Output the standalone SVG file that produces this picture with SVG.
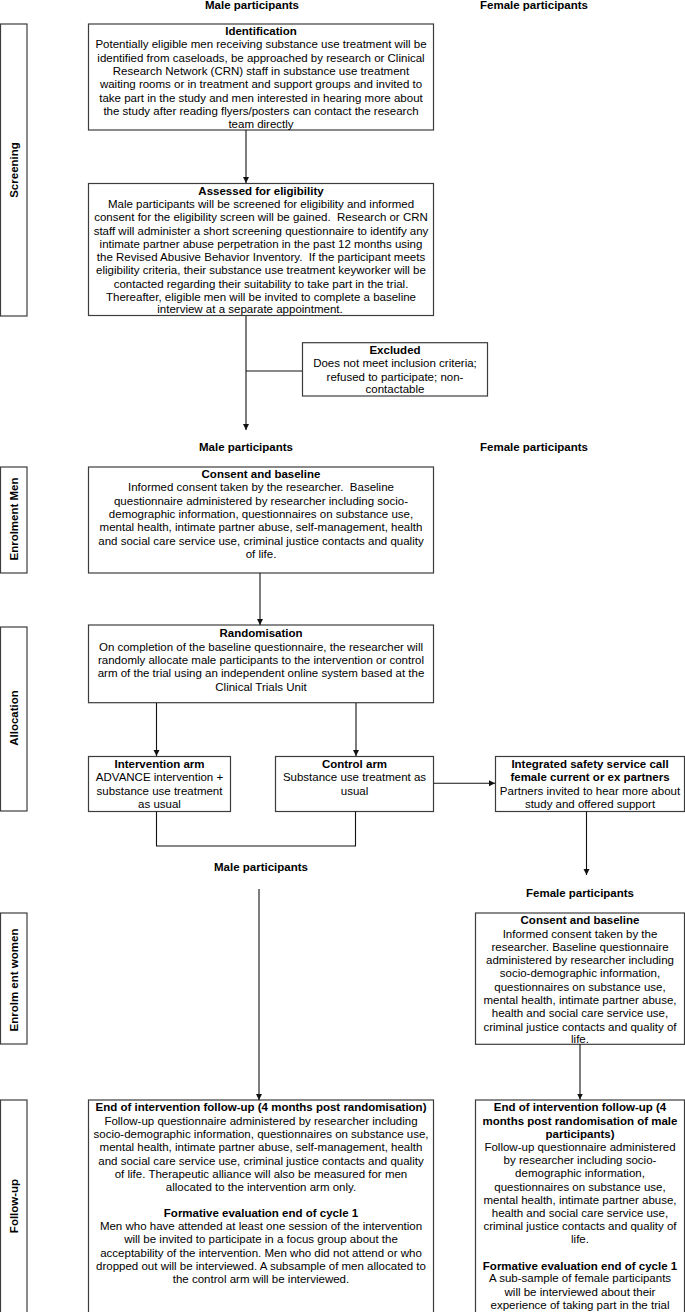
<svg xmlns="http://www.w3.org/2000/svg" width="685" height="1312" viewBox="0 0 685 1312">
<style>
text{font-family:"Liberation Sans",Arial,sans-serif;font-size:11.5px;fill:#000;text-anchor:middle}
.b{font-weight:bold}
.box{fill:#fff;stroke:#3c3c3c;stroke-width:1.2}
.con{fill:none;stroke:#111;stroke-width:1.1}
</style>
<defs>
<marker id="ah" markerUnits="userSpaceOnUse" markerWidth="7" markerHeight="7" refX="6" refY="3" orient="auto">
<path d="M0,0 L6,3 L0,6 z" fill="#111"/>
</marker>
</defs>
<rect width="685" height="1312" fill="#fff"/>

<g id="headers">
<text class="b" x="252" y="9">Male participants</text>
<text class="b" x="534" y="9">Female participants</text>
<text class="b" x="246" y="451">Male participants</text>
<text class="b" x="534" y="451">Female participants</text>
<text class="b" x="261" y="871">Male participants</text>
<text class="b" x="580" y="897">Female participants</text>
</g>

<g id="stage-screening">
<rect class="box" x="0.5" y="24" width="26.5" height="292"/>
<text class="b" transform="translate(17.5,170) rotate(-90)">Screening</text>
</g>
<g id="stage-enrolment-men">
<rect class="box" x="0.5" y="467" width="26.5" height="106"/>
<text class="b" transform="translate(17.5,519) rotate(-90)">Enrolment Men</text>
</g>
<g id="stage-allocation">
<rect class="box" x="0.5" y="627" width="26.5" height="184"/>
<text class="b" transform="translate(17.5,718) rotate(-90)">Allocation</text>
</g>
<g id="stage-enrolment-women">
<rect class="box" x="0.5" y="913" width="26.5" height="131"/>
<text class="b" transform="translate(17.5,980) rotate(-90)">Enrolm ent women</text>
</g>
<g id="stage-followup">
<rect class="box" x="0.5" y="1100" width="26.5" height="220"/>
<text class="b" transform="translate(17.5,1206) rotate(-90)">Follow-up</text>
</g>

<g id="identification">
<rect class="box" x="88.5" y="24" width="345" height="106"/>
<text x="261"><tspan class="b" x="261" y="35">Identification</tspan><tspan x="261" y="48.3">Potentially eligible men receiving substance use treatment will be</tspan><tspan x="261" y="61.7">identified from caseloads, be approached by research or Clinical</tspan><tspan x="261" y="75">Research Network (CRN) staff in substance use treatment</tspan><tspan x="261" y="88.3">waiting rooms or in treatment and support groups and invited to</tspan><tspan x="261" y="101.7">take part in the study and men interested in hearing more about</tspan><tspan x="261" y="115">the study after reading flyers/posters can contact the research</tspan><tspan x="261" y="128.3">team directly</tspan></text>
</g>

<g id="eligibility">
<rect class="box" x="88.5" y="183.5" width="345" height="132"/>
<text x="261"><tspan class="b" x="261" y="194.7">Assessed for eligibility</tspan><tspan x="261" y="208">Male participants will be screened for eligibility and informed</tspan><tspan x="261" y="221.3">consent for the eligibility screen will be gained.&#160; Research or CRN</tspan><tspan x="261" y="234.6">staff will administer a short screening questionnaire to identify any</tspan><tspan x="261" y="247.6">intimate partner abuse perpetration in the past 12 months using</tspan><tspan x="261" y="260.9">the Revised Abusive Behavior Inventory.&#160; If the participant meets</tspan><tspan x="261" y="274.2">eligibility criteria, their substance use treatment keyworker will be</tspan><tspan x="261" y="287.5">contacted regarding their suitability to take part in the trial.</tspan><tspan x="261" y="300.5">Thereafter, eligible men will be invited to complete a baseline</tspan><tspan x="250" y="313.3">interview at a separate appointment.</tspan></text>
</g>

<g id="excluded">
<rect class="box" x="302.5" y="342.7" width="185" height="53.3"/>
<text x="395"><tspan class="b" x="395" y="354">Excluded</tspan><tspan x="395" y="367.3">Does not meet inclusion criteria;</tspan><tspan x="395" y="380.7">refused to participate; non-</tspan><tspan x="395" y="393.3">contactable</tspan></text>
</g>

<g id="consent-men">
<rect class="box" x="88.5" y="467" width="345" height="106"/>
<text x="261"><tspan class="b" x="261" y="478">Consent and baseline</tspan><tspan x="261" y="491.3">Informed consent taken by the researcher.&#160; Baseline</tspan><tspan x="261" y="504.7">questionnaire administered by researcher including socio-</tspan><tspan x="261" y="518">demographic information, questionnaires on substance use,</tspan><tspan x="261" y="531.3">mental health, intimate partner abuse, self-management, health</tspan><tspan x="261" y="544.7">and social care service use, criminal justice contacts and quality</tspan><tspan x="261" y="558">of life.</tspan></text>
</g>

<g id="randomisation">
<rect class="box" x="88.5" y="625" width="345" height="77.7"/>
<text x="261"><tspan class="b" x="261" y="637.3">Randomisation</tspan><tspan x="261" y="650.7">On completion of the baseline questionnaire, the researcher will</tspan><tspan x="261" y="664">randomly allocate male participants to the intervention or control</tspan><tspan x="261" y="677.3">arm of the trial using an independent online system based at the</tspan><tspan x="261" y="690.6">Clinical Trials Unit</tspan></text>
</g>

<g id="intervention-arm">
<rect class="box" x="88.5" y="756.5" width="142" height="55"/>
<text x="159.5"><tspan class="b" x="159.5" y="768">Intervention arm</tspan><tspan x="159.5" y="781.3">ADVANCE intervention +</tspan><tspan x="159.5" y="794.7">substance use treatment</tspan><tspan x="159.5" y="808">as usual</tspan></text>
</g>

<g id="control-arm">
<rect class="box" x="275.5" y="756.5" width="158" height="55"/>
<text x="354.5"><tspan class="b" x="354.5" y="768">Control arm</tspan><tspan x="354.5" y="781.3">Substance use treatment as</tspan><tspan x="354.5" y="794.7">usual</tspan></text>
</g>

<g id="safety-call">
<rect class="box" x="495.5" y="756.5" width="189" height="55"/>
<text x="590"><tspan class="b" x="590" y="768">Integrated safety service call</tspan><tspan class="b" x="590" y="781.3">female current or ex partners</tspan><tspan x="590" y="794.7">Partners invited to hear more about</tspan><tspan x="590" y="808">study and offered support</tspan></text>
</g>

<g id="consent-women">
<rect class="box" x="475.5" y="913" width="209" height="131.3"/>
<text x="580"><tspan class="b" x="580" y="924">Consent and baseline</tspan><tspan x="580" y="937.5">Informed consent taken by the</tspan><tspan x="580" y="950.8">researcher. Baseline questionnaire</tspan><tspan x="580" y="964">administered by researcher including</tspan><tspan x="580" y="977.3">socio-demographic information,</tspan><tspan x="580" y="990.7">questionnaires on substance use,</tspan><tspan x="580" y="1004">mental health, intimate partner abuse,</tspan><tspan x="580" y="1017.3">health and social care service use,</tspan><tspan x="580" y="1030.7">criminal justice contacts and quality of</tspan><tspan x="580" y="1043">life.</tspan></text>
</g>

<g id="followup-men">
<rect class="box" x="88.5" y="1100" width="345" height="220"/>
<text x="261"><tspan class="b" x="261" y="1111.3">End of intervention follow-up (4 months post randomisation)</tspan><tspan x="261" y="1124.7">Follow-up questionnaire administered by researcher including</tspan><tspan x="261" y="1138">socio-demographic information, questionnaires on substance use,</tspan><tspan x="261" y="1151.3">mental health, intimate partner abuse, self-management, health</tspan><tspan x="261" y="1164.7">and social care service use, criminal justice contacts and quality</tspan><tspan x="261" y="1178">of life. Therapeutic alliance will also be measured for men</tspan><tspan x="261" y="1190.7">allocated to the intervention arm only.</tspan><tspan class="b" x="261" y="1216.7">Formative evaluation end of cycle 1</tspan><tspan x="261" y="1230">Men who have attended at least one session of the intervention</tspan><tspan x="261" y="1243.3">will be invited to participate in a focus group about the</tspan><tspan x="261" y="1256.7">acceptability of the intervention. Men who did not attend or who</tspan><tspan x="261" y="1270">dropped out will be interviewed. A subsample of men allocated to</tspan><tspan x="261" y="1282.7">the control arm will be interviewed.</tspan></text>
</g>

<g id="followup-women">
<rect class="box" x="475.5" y="1100" width="209" height="220"/>
<text x="580"><tspan class="b" x="580" y="1111.3">End of intervention follow-up (4</tspan><tspan class="b" x="580" y="1124.7">months post randomisation of male</tspan><tspan class="b" x="580" y="1138">participants)</tspan><tspan x="580" y="1150.7">Follow-up questionnaire administered</tspan><tspan x="580" y="1164">by researcher including socio-</tspan><tspan x="580" y="1177.3">demographic information,</tspan><tspan x="580" y="1190.7">questionnaires on substance use,</tspan><tspan x="580" y="1204">mental health, intimate partner abuse,</tspan><tspan x="580" y="1216.7">health and social care service use,</tspan><tspan x="580" y="1230">criminal justice contacts and quality of</tspan><tspan x="580" y="1243.3">life.</tspan><tspan class="b" x="580" y="1269.7">Formative evaluation end of cycle 1</tspan><tspan x="580" y="1282.3">A sub-sample of female participants</tspan><tspan x="580" y="1295.7">will be interviewed about their</tspan><tspan x="580" y="1309">experience of taking part in the trial</tspan></text>
</g>

<g id="connectors">
<path class="con" d="M246,130 V183" marker-end="url(#ah)"/>
<path class="con" d="M246,316 V430" marker-end="url(#ah)"/>
<path class="con" d="M246,371 H302"/>
<path class="con" d="M260,573 V625" marker-end="url(#ah)"/>
<path class="con" d="M156.5,703 V756" marker-end="url(#ah)"/>
<path class="con" d="M356,703 V756" marker-end="url(#ah)"/>
<path class="con" d="M433.5,783.3 H495" marker-end="url(#ah)"/>
<path class="con" d="M156.5,811.5 V846 H355.5 V811.5"/>
<path class="con" d="M586.5,811.5 V875" marker-end="url(#ah)"/>
<path class="con" d="M259,889 V1100" marker-end="url(#ah)"/>
<path class="con" d="M580,1044.5 V1099.5" marker-end="url(#ah)"/>
</g>
</svg>
